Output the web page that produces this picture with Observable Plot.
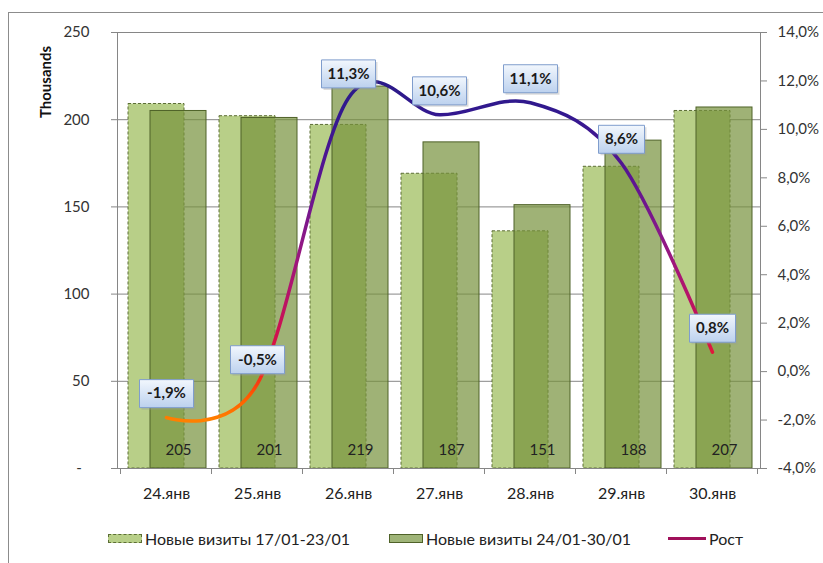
<!DOCTYPE html>
<html><head><meta charset="utf-8">
<script src="https://cdn.jsdelivr.net/npm/d3@7"></script>
<script src="https://cdn.jsdelivr.net/npm/@observablehq/plot@0.6"></script>
<style>
body{margin:0;background:#fff;font-family:Lato,"Open Sans",sans-serif;}
#wrap{position:relative;width:823px;height:563px;overflow:hidden;background:#fff;}
#frame{position:absolute;left:8px;top:12px;width:830px;height:600px;border-left:1px solid #8c8c8c;border-top:1px solid #8c8c8c;}
#chart{position:absolute;left:0;top:0;}
#ylabel{position:absolute;left:45px;top:82px;transform:translate(-50%,-50%) rotate(-90deg);font-weight:bold;font-size:15px;color:#111;white-space:nowrap;}
#legend{position:absolute;top:527px;left:0;width:823px;height:22px;font-size:16px;color:#222;}
.li{position:absolute;top:0;height:22px;display:flex;align-items:center;white-space:nowrap;}
.sw{display:inline-block;width:34px;height:9px;margin-right:3px;box-sizing:border-box;}
</style></head><body>
<div id="wrap"><div id="frame"></div><div id="chart"></div><div id="ylabel">Thousands</div><div id="legend"></div></div>
<script>
const categories = ["24.янв","25.янв","26.янв","27.янв","28.янв","29.янв","30.янв"];
const visitsPrev = [209, 202, 197, 169, 136, 173, 205];
const visitsCur = [205, 201, 219, 187, 151, 188, 207];
const growth = [-1.9, -0.5, 11.3, 10.6, 11.1, 8.6, 0.8];
const growthLabels = ["-1,9%","-0,5%","11,3%","10,6%","11,1%","8,6%","0,8%"];
const leftTicks = [0, 50, 100, 150, 200, 250];
const rightTicks = [-4, -2, 0, 2, 4, 6, 8, 10, 12, 14];
const seriesNames = ["Новые визиты 17/01-23/01", "Новые визиты 24/01-30/01", "Рост"];

const pMin = -4, pMax = 14, leftMax = 250;
const toLeft = p => (p - pMin) / (pMax - pMin) * leftMax;

const rows = categories.map((c, i) => ({cat: c, prev: visitsPrev[i], cur: visitsCur[i], g: growth[i], label: growthLabels[i]}));

const gradStops = [[-2,"#ff8000"],[-1,"#ff5a00"],[0,"#f02424"],[1.5,"#d0104e"],[3.5,"#b0146e"],[5.5,"#8c1888"],[8,"#5a1492"],[10.5,"#341890"],[12,"#2a1a88"]];

const boxWide = {draw(ctx){ ctx.rect(-27,-14,54,28); }};
const boxNarrow = {draw(ctx){ ctx.rect(-23,-14,46,28); }};

function defsMark(index, scales, values, dimensions) {
  const g = d3.create("svg:g");
  const defs = g.append("defs");
  const lg = defs.append("linearGradient").attr("id","growthGrad").attr("gradientUnits","userSpaceOnUse")
    .attr("x1",0).attr("x2",0).attr("y1",scales.y(toLeft(-2))).attr("y2",scales.y(toLeft(12)));
  gradStops.forEach(([p,c]) => lg.append("stop").attr("offset",(p+2)/14).attr("stop-color",c));
  const bg = defs.append("linearGradient").attr("id","boxGrad").attr("x1",0).attr("x2",0).attr("y1",0).attr("y2",1);
  bg.append("stop").attr("offset",0).attr("stop-color","#f2f7fd");
  bg.append("stop").attr("offset",1).attr("stop-color","#bcd1ee");
  return g.node();
}

function catTicks(index, scales, values, dimensions) {
  const g = d3.create("svg:g").attr("stroke","#868686");
  const bw = scales.x.bandwidth ? scales.x.bandwidth() : 0;
  const step = scales.x(categories[1]) - scales.x(categories[0]);
  const y0 = dimensions.height - dimensions.marginBottom;
  const xs = categories.map(c => scales.x(c) + bw/2 - step/2);
  xs.push(scales.x(categories[categories.length-1]) + bw/2 + step/2);
  xs.forEach(x => g.append("line").attr("x1",x).attr("x2",x).attr("y1",y0).attr("y2",y0+6));
  return g.node();
}

const fmtPct = d => {
  const p = Math.round(d / leftMax * (pMax - pMin) + pMin);
  return p.toFixed(1).replace(".", ",") + "%";
};

const chart = Plot.plot({
  width: 823,
  height: 515,
  marginLeft: 117,
  marginRight: 63,
  marginTop: 32,
  marginBottom: 47,
  style: {fontFamily: "Lato, 'Open Sans', sans-serif", fontSize: "15px", color: "#333", background: "transparent"},
  x: {domain: categories, paddingInner: 0.39, paddingOuter: 0.195, axis: null},
  y: {domain: [0, leftMax], axis: null},
  marks: [
    defsMark,
    Plot.gridY([50, 100, 150, 200], {stroke: "#868686", strokeOpacity: 1}),
    Plot.barY(rows, {x: "cat", y: "prev", dx: -10, fill: "#b8cf88", stroke: "#5c6e35", strokeDasharray: "3,2", strokeWidth: 1}),
    Plot.barY(rows, {x: "cat", y: "cur", dx: 12, fill: "#76923c", fillOpacity: 0.7, stroke: "#4f6228", strokeWidth: 1}),
    Plot.frame({stroke: "#868686"}),
    Plot.text(rows, {x: "cat", y: 0, text: d => String(d.cur), dx: 12, dy: -18, fontSize: 15, fill: "#222"}),
    Plot.axisY(leftTicks, {anchor: "left", tickSize: 6, tickPadding: 22, stroke: "#868686", fill: "#333", fontSize: 15, label: null,
      tickFormat: d => d === 0 ? "-\u00a0\u00a0" : String(d)}),
    Plot.axisY(rightTicks.map(toLeft), {anchor: "right", tickSize: 6, tickPadding: 11, stroke: "#868686", fill: "#333", fontSize: 15, label: null,
      tickFormat: fmtPct}),
    Plot.axisX({tickSize: 0, tickPadding: 19, fontSize: 16, fill: "#222", label: null}),
    catTicks,
    Plot.line(rows, {x: "cat", y: d => toLeft(d.g), curve: "cardinal", stroke: "url(#growthGrad)", strokeWidth: 3.5}),
    Plot.dot(rows.filter(d => d.label.length > 4), {x: "cat", y: d => toLeft(d.g), dx: 2, dy: -22, symbol: boxWide, fill: "#9a9a9a", fillOpacity: 0.35, stroke: "none"}),
    Plot.dot(rows.filter(d => d.label.length <= 4), {x: "cat", y: d => toLeft(d.g), dx: 2, dy: -22, symbol: boxNarrow, fill: "#9a9a9a", fillOpacity: 0.35, stroke: "none"}),
    Plot.dot(rows.filter(d => d.label.length > 4), {x: "cat", y: d => toLeft(d.g), dy: -24, symbol: boxWide, fill: "url(#boxGrad)", stroke: "#7f9dcd", strokeWidth: 1}),
    Plot.dot(rows.filter(d => d.label.length <= 4), {x: "cat", y: d => toLeft(d.g), dy: -24, symbol: boxNarrow, fill: "url(#boxGrad)", stroke: "#7f9dcd", strokeWidth: 1}),
    Plot.text(rows, {x: "cat", y: d => toLeft(d.g), dy: -24, text: "label", fontWeight: "bold", fontSize: 15, fill: "#1a1a1a"})
  ]
});
document.getElementById("chart").appendChild(chart);

const legend = document.getElementById("legend");
const items = [
  {left: 108, sw: "background:#b8cf88;border:1px dashed #5c6e35;", name: seriesNames[0]},
  {left: 389, sw: "background:#9fb478;border:1px solid #4f6228;", name: seriesNames[1]},
  {left: 668, sw: "height:3px;background:#a0105a;width:38px;", name: seriesNames[2]}
];
items.forEach(it => {
  const d = document.createElement("div");
  d.className = "li";
  d.style.left = it.left + "px";
  const s = document.createElement("span");
  s.className = "sw";
  s.setAttribute("style", it.sw);
  const t = document.createElement("span");
  t.textContent = it.name;
  d.appendChild(s); d.appendChild(t);
  legend.appendChild(d);
});
</script>
</body></html>
